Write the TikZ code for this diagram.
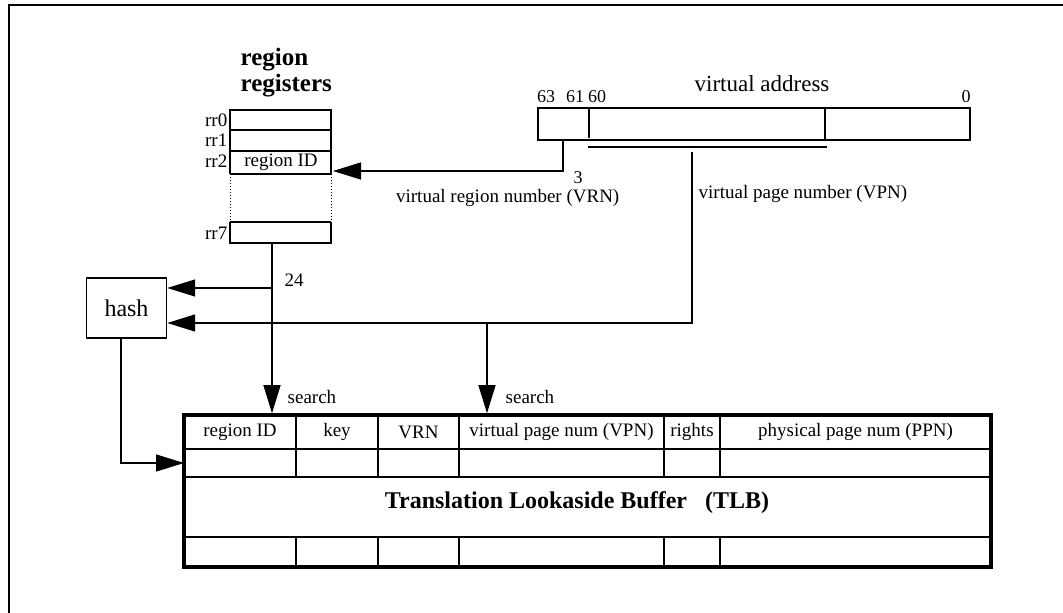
\documentclass[tikz,border=0pt]{standalone}
\usepackage{fontspec}
\setmainfont{Liberation Serif}
\usetikzlibrary{arrows.meta}

\tikzset{
  lbl/.style={inner sep=0pt,font=\fontsize{9.5}{11}\selectfont},
  bitnum/.style={inner sep=0pt,font=\fontsize{9}{11}\selectfont},
  headbold/.style={inner sep=0pt,font=\bfseries\fontsize{12.5}{14}\selectfont},
  bigtip/.style={-{Triangle[length=14pt,width=8.5pt]}},
  tlbline/.style={line width=0.6pt},
}

\begin{document}
\begin{tikzpicture}[x=0.5pt,y=-0.5pt,line width=0.7pt]
\useasboundingbox (0,0) rectangle (1063,613);

% --- FRAME ---
\draw (9,613) -- (9,5) -- (1063,5);

% --- REGION REGISTERS ---
\node[headbold,anchor=base west] (regtop) at (240,66) {region};
\node[headbold,anchor=base west] (regbot) at (240,92) {registers};
\node[inner sep=0pt,minimum width=50.5pt,minimum height=66.5pt] (regs) at (280.5,176.5) {};
\draw (230,174) -- (230,110) -- (331,110) -- (331,174);
\draw (230,222) -- (230,243) -- (331,243) -- (331,222);
\draw[densely dotted,line width=0.5pt] (230,174) -- (230,222) (331,174) -- (331,222);
\foreach \y in {130,151,174,222}
  \draw (230,\y) -- (331,\y);
\foreach \r/\y in {rr0/120,rr1/140,rr2/161,rr7/233}
  \node[lbl,anchor=east] (\r) at (228,\y) {\r};
\node[lbl] (rid) at (281,162) {region ID};

% --- VIRTUAL ADDRESS ---
\node[draw,inner sep=0pt,minimum width=216pt,minimum height=16pt] (va) at (754,124) {};
\draw (589,108) -- (589,138);
\draw (825,108) -- (825,140);
\node[inner sep=0pt,font=\fontsize{11.5}{13}\selectfont] (vatitle) at (762,84) {virtual address};
\foreach \b/\x in {63/546,61/575,60/597,0/966}
  \node[bitnum] (bit\b) at (\x,97) {\b};
\draw (588,147) -- (827,147);

% --- HASH AND TLB ---
\node[draw,inner sep=0pt,minimum width=40pt,minimum height=30pt,
      font=\fontsize{12}{14}\selectfont] (hash) at (126.5,308) {hash};
\node[draw,line width=1.8pt,inner sep=0pt,minimum width=403.5pt,
      minimum height=76pt] (tlb) at (587.5,491) {};
\foreach \y in {449,477,537}
  \draw[tlbline] (184,\y) -- (991,\y);
\foreach \x in {296,378,459,664,720}
  \draw[tlbline] (\x,415) -- (\x,477) (\x,537) -- (\x,567);
\foreach \t/\x [count=\i] in {region ID/240,key/337,VRN/418.5,
    virtual page num (VPN)/561.5,rights/692,physical page num (PPN)/855.5}
  \node[lbl] (head\i) at (\x,432) {\t};
\node[inner sep=0pt,font=\bfseries\fontsize{12}{14}\selectfont] (tlbname) at (577,503)
  {Translation Lookaside Buffer\hspace{0.75em}(TLB)};

% --- CONNECTORS ---
\coordinate (vrnout) at (563,140);
\coordinate (rr2in) at (333,171);
\draw[bigtip] (vrnout) |- (rr2in);
\node[bitnum] (vrnw) at (578,178) {3};
\node[lbl,anchor=east] (vrnlbl) at (620,198) {virtual region number (VRN)};

\coordinate (vpnout) at (692,152);
\coordinate (vpnturn) at (692,323);
\coordinate (vpnsplit) at (487,323);
\draw[bigtip] (vpnout) -- (vpnturn) -- (hash.east |- vpnturn);
\draw[bigtip] (vpnsplit) -- (vpnsplit |- tlb.north);
\node[lbl,anchor=west] (vpnlbl) at (698,194) {virtual page number (VPN)};

\coordinate (ridout) at (272,243);
\coordinate (ridsplit) at (273,288);
\draw[bigtip] (ridout) -- (ridout |- tlb.north);
\draw[bigtip] (ridsplit) -- (hash.east |- ridsplit);
\node[lbl] (ridw) at (294,280) {24};

\node[lbl,anchor=west] (search1) at (287,397) {search};
\node[lbl,anchor=west] (search2) at (505,397) {search};

\coordinate (tlbin) at (184,463);
\draw[bigtip] ([xshift=-2.75pt]hash.south) |- (tlbin);

\end{tikzpicture}
\end{document}
